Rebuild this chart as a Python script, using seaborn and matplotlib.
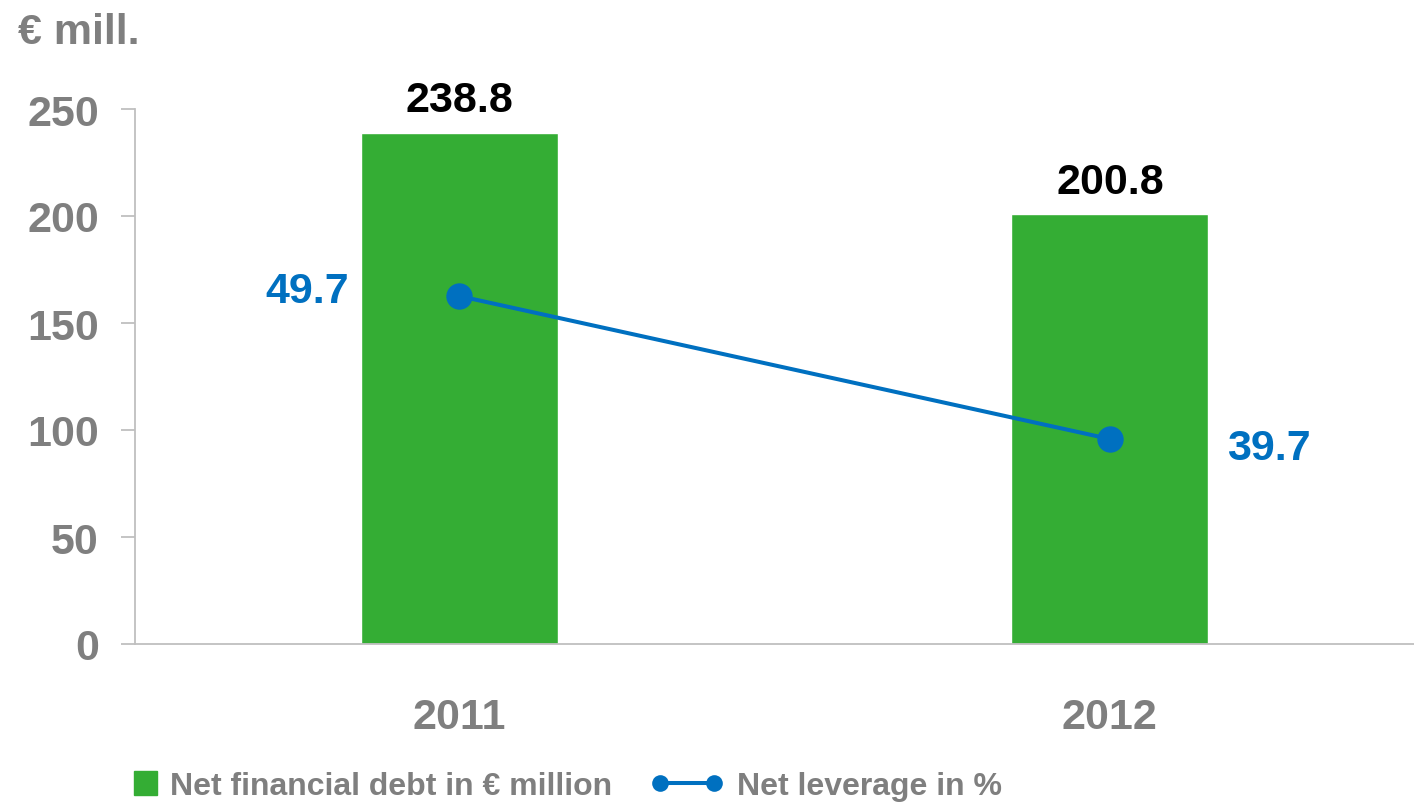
import matplotlib
matplotlib.use("Agg")
import matplotlib.pyplot as plt
import matplotlib.patches as mpatches
from matplotlib.legend_handler import HandlerPatch
from matplotlib.lines import Line2D
import seaborn as sns

# Data
years = ["2011", "2012"]
net_debt = [238.8, 200.8]          # € million
net_leverage = [49.7, 39.7]        # %
yticks = [0, 50, 100, 150, 200, 250]

GREEN = "#34AD34"
BLUE = "#0070C0"
GRAY = "#7F7F7F"
AXIS_GRAY = "#BFBFBF"
FONT = "Liberation Sans"

sns.set_theme(style="white")
plt.rcParams["font.family"] = [FONT, "DejaVu Sans"]
plt.rcParams["font.weight"] = "bold"

fig = plt.figure(figsize=(14.14, 8.03), dpi=100)
ax = fig.add_axes([135 / 1414, 158 / 803, 1 - 135 / 1414, (645 - 110) / 803])

# Bars: net financial debt
sns.barplot(x=years, y=net_debt, color=GREEN, saturation=1, width=0.303, ax=ax)
ax.set_ylim(0, 250)
ax.set_xlim(-0.4988, 1.4675)
ax.set_yticks(yticks)
ax.set_xlabel("")
ax.set_ylabel("")

for side in ["top", "right"]:
    ax.spines[side].set_visible(False)
for side in ["left", "bottom"]:
    ax.spines[side].set_color(AXIS_GRAY)
    ax.spines[side].set_linewidth(1.3)

ax.tick_params(axis="y", length=10, width=1.3, color=AXIS_GRAY, pad=16,
               labelsize=31, labelcolor=GRAY, left=True)
ax.tick_params(axis="x", length=0, pad=38, labelsize=31, labelcolor=GRAY)
for lbl in ax.get_xticklabels() + ax.get_yticklabels():
    lbl.set_fontweight("bold")

ax.bar_label(ax.containers[0], labels=[f"{v:.1f}" for v in net_debt],
             padding=9, fontsize=31, fontweight="bold", color="black")

# Line: net leverage on a hidden secondary scale
ax2 = ax.twinx()
sns.lineplot(x=[0, 1], y=net_leverage, ax=ax2, color=BLUE, linewidth=2.9,
             marker="o", markersize=19, markeredgewidth=0, legend=False)
ax2.set_ylim(25.36, 62.79)
ax2.set_xlim(-0.4988, 1.4675)
ax2.axis("off")

offsets = [(-152, 5), (159, -9)]
for i, (v, off) in enumerate(zip(net_leverage, offsets)):
    ax2.annotate(f"{v:.1f}", xy=(i, v), xytext=off, textcoords="offset pixels",
                 ha="center", va="center", fontsize=31, fontweight="bold",
                 color=BLUE)

# Unit label
fig.text(18 / 1414, 1 - 13 / 803, "€ mill.", ha="left", va="top",
         fontsize=31, fontweight="bold", color=GRAY)


# Legend with a square swatch and a two-marker line
def square_patch(legend, orig_handle, xdescent, ydescent, width, height, fontsize):
    side = height * 1.05
    return mpatches.Rectangle((width - side - xdescent, -ydescent - (side - height) / 2),
                              side, side)


handles = [mpatches.Patch(color=GREEN),
           Line2D([0], [0], color=BLUE, linewidth=2.9, marker="o",
                  markersize=12, markeredgewidth=0)]
labels = ["Net financial debt in € million", "Net leverage in %"]
leg = fig.legend(handles, labels, loc="lower left",
                 bbox_to_anchor=(55 / 1414, -28 / 803), ncol=2, frameon=False,
                 fontsize=23, numpoints=2, handlelength=2.3, handletextpad=0.4,
                 columnspacing=1.2,
                 handler_map={mpatches.Patch: HandlerPatch(patch_func=square_patch)})
for t in leg.get_texts():
    t.set_color(GRAY)
    t.set_fontweight("bold")

fig.savefig("out.png", dpi=100)
